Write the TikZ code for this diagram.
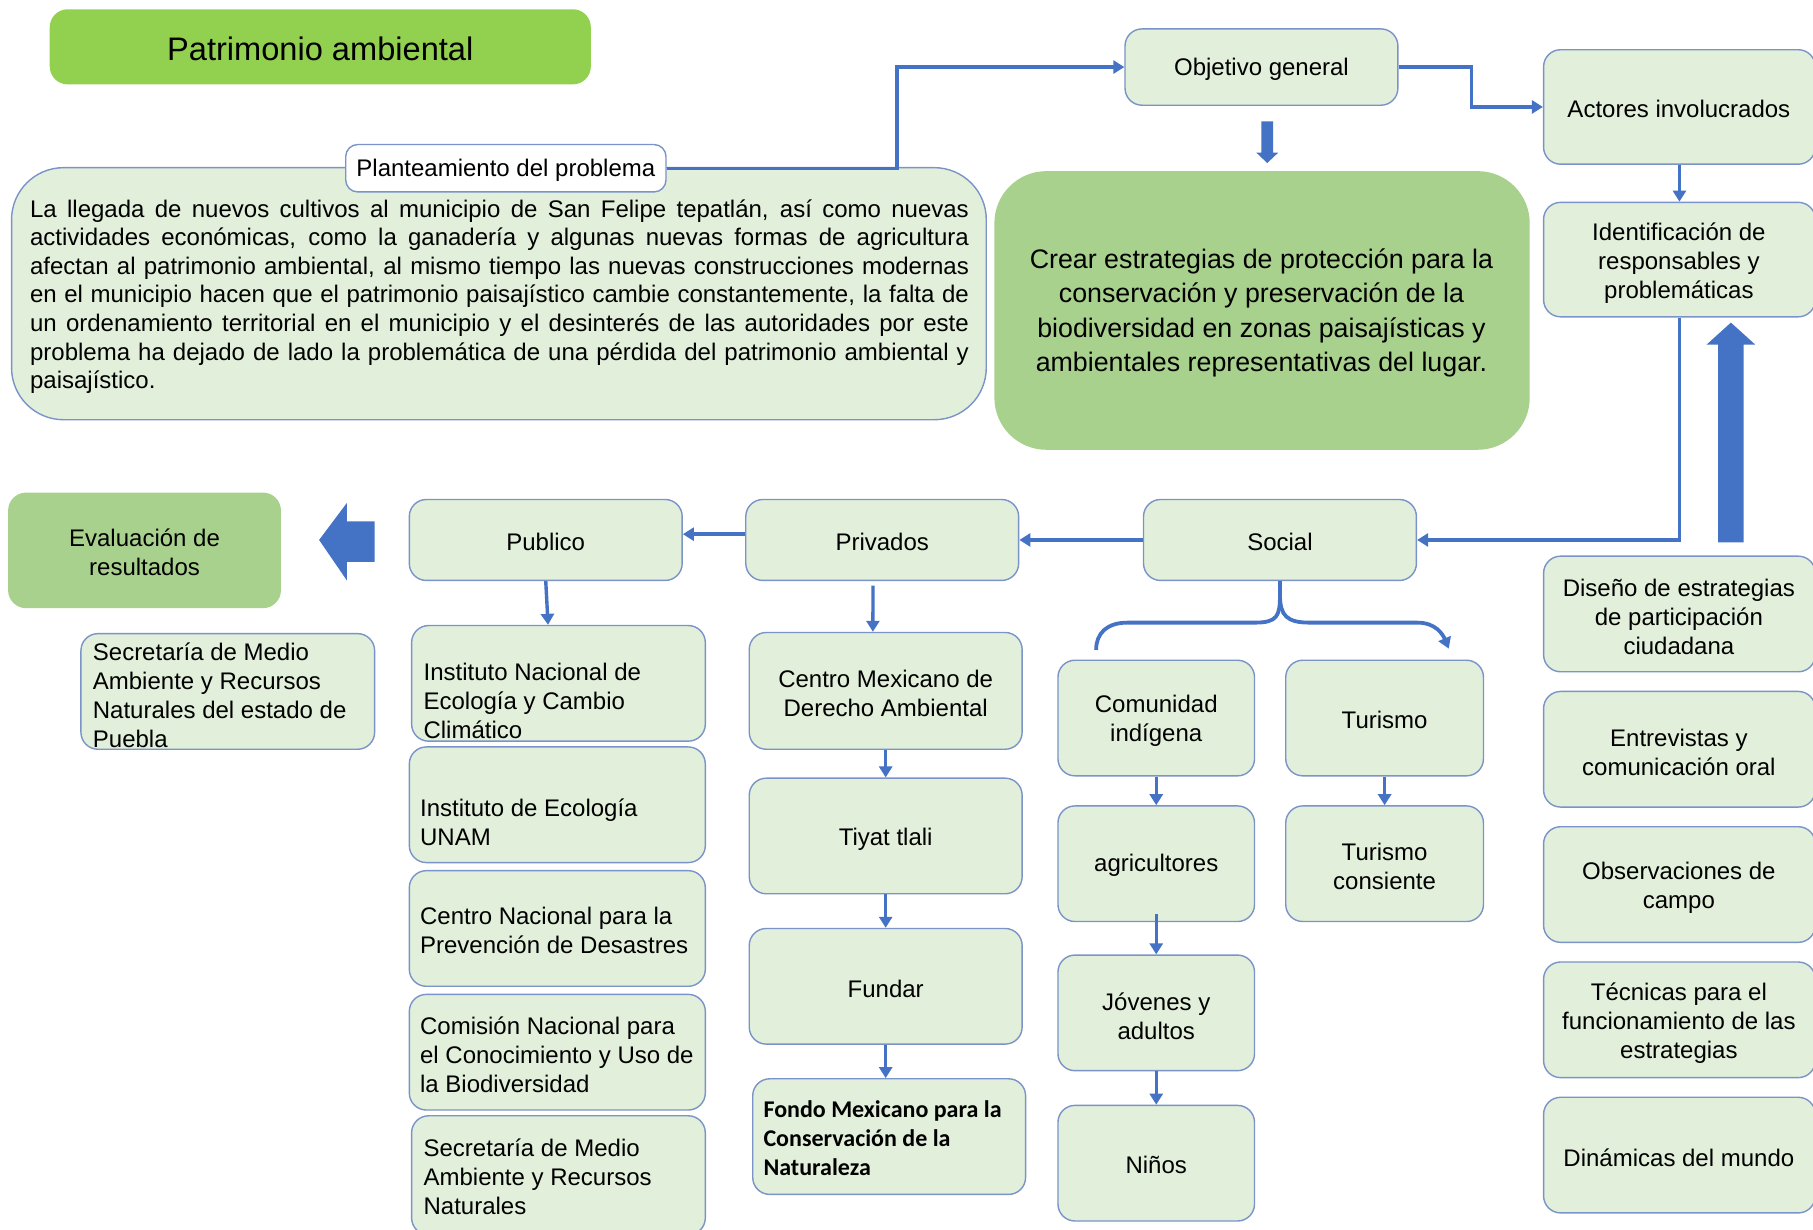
\documentclass[tikz,border=0pt]{standalone}
\usepackage{fontspec}
\setmainfont{Liberation Sans}
\newfontfamily\carlito{Carlito}
\usetikzlibrary{arrows.meta}
\definecolor{lgreen}{HTML}{E2EFDA}
\definecolor{mgreen}{HTML}{A9D18E}
\definecolor{tgreen}{HTML}{92D050}
\definecolor{bdr}{HTML}{7A93C8}
\definecolor{arr}{HTML}{4472C4}
\tikzset{
  box/.style={draw=bdr, line width=0.7pt, fill=lgreen, rounded corners=8.5pt},
  txt/.style={inner sep=0pt, yshift=-0.9pt, font=\fontsize{12}{14.45}\selectfont, align=center},
  ltxt/.style={inner sep=0pt, yshift=-0.9pt, font=\fontsize{12}{14.45}\selectfont, align=left, anchor=west},
  conn/.style={draw=arr, line width=1.7pt, -{Triangle[length=5.5pt,width=6.5pt]}},
  plain/.style={draw=arr, line width=1.9pt},
  blockarrow/.style={fill=arr, draw=none}
}
\newcommand\boxat[6]{%
  \pgfmathsetmacro\bw{(#4-#2)*0.5781}%
  \pgfmathsetmacro\bh{(#5-#3)*0.5781}%
  \node[#6, minimum width=\bw pt, minimum height=\bh pt, inner sep=0pt] (#1) at ({(#2+#4)/2},{(#3+#5)/2}) {};}
\newcommand\jline[1]{\makebox[469.4pt][s]{#1}}
\begin{document}
\begin{tikzpicture}[x=0.5781pt,y=-0.5781pt]
\useasboundingbox (0,0) rectangle (1568,1063);
\clip (0,0) rectangle (1568,1063);

% title
\boxat{title}{43}{8}{511}{73}{fill=tgreen, rounded corners=9pt}
\node[txt, font=\fontsize{16.3}{19}\selectfont] (title-t) at (277,41) {Patrimonio ambiental};

% problem
\boxat{prob}{10}{145}{853}{363}{box, rounded corners=26pt}
\boxat{plant}{299}{125}{576}{166}{box, fill=white, rounded corners=6pt}
\node[txt] (plant-t) at (437.5,146) {Planteamiento del problema};
\node[inner sep=0pt, yshift=-0.9pt, font=\fontsize{12}{14.26}\selectfont, align=left, text width=469.4pt] (prob-t) at (432,255)
{\spaceskip=0pt\xspaceskip=0pt
\jline{La llegada de nuevos cultivos al municipio de San Felipe tepatlán, así como nuevas}\\
\jline{actividades económicas, como la ganadería y algunas nuevas formas de agricultura}\\
\jline{afectan al patrimonio ambiental, al mismo tiempo las nuevas construcciones modernas}\\
\jline{en el municipio hacen que el patrimonio paisajístico cambie constantemente, la falta de}\\
\jline{un ordenamiento territorial en el municipio y el desinterés de las autoridades por este}\\
\jline{problema ha dejado de lado la problemática de una pérdida del patrimonio ambiental y}\\
paisajístico.};

% objective
\boxat{obj}{973}{25}{1209}{91}{box}
\node[txt] (obj-t) at (1091,58) {Objetivo general};
\boxat{crear}{860}{148}{1323}{389}{fill=mgreen, rounded corners=26pt}
\node[txt, font=\fontsize{13.4}{17.3}\selectfont] (crear-t) at (1091,269)
{Crear estrategias de protección para la\\conservación y preservación de la\\biodiversidad en zonas paisajísticas y\\ambientales representativas del lugar.};
\fill[blockarrow] (1091,105) -- (1101,105) -- (1101,132) -- (1105.5,132) -- (1096,141) -- (1086.5,132) -- (1091,132) -- cycle;

% actors
\boxat{act}{1335}{43}{1570}{142}{box}
\node[txt] (act-t) at (1452,93) {Actores involucrados};
\boxat{ident}{1335}{175}{1570}{274}{box}
\node[txt] (ident-t) at (1452,226) {Identificación de\\responsables y\\problemáticas};

% row
\boxat{social}{989}{432}{1225}{502}{box}
\node[txt] (social-t) at (1107,467) {Social};
\boxat{priv}{645}{432}{881}{502}{box}
\node[txt] (priv-t) at (763,467) {Privados};
\boxat{pub}{354}{432}{590}{502}{box}
\node[txt] (pub-t) at (472,467) {Publico};
\boxat{eval}{7}{426}{243}{526}{fill=mgreen, rounded corners=9pt}
\node[txt] (eval-t) at (125,476) {Evaluación de\\resultados};
\fill[blockarrow] (276,467) -- (300,435) -- (300,451) -- (324,451) -- (324,486) -- (300,486) -- (300,502) -- cycle;
\boxat{puebla}{70}{548}{324}{648}{box}
\node[ltxt] (puebla-t) at (80,599.5) {Secretaría de Medio\\Ambiente y Recursos\\Naturales del estado de\\Puebla};

% publico column
\boxat{inst1}{356}{541}{610}{641}{box}
\node[ltxt] (inst1-t) at (366,604.5) {Instituto Nacional de\\Ecología y Cambio\\Climático};
\boxat{inst2}{354}{646}{610}{746}{box}
\node[ltxt] (inst2-t) at (363,709.5) {Instituto de Ecología\\UNAM};
\boxat{inst3}{354}{753}{610}{853}{box}
\node[ltxt] (inst3-t) at (363,803.5) {Centro Nacional para la\\Prevención de Desastres};
\boxat{inst4}{354}{860}{610}{960}{box}
\node[ltxt] (inst4-t) at (363,911) {Comisión Nacional para\\el Conocimiento y Uso de\\la Biodiversidad};
\boxat{inst5}{356}{965}{610}{1068}{box}
\node[ltxt] (inst5-t) at (366,1016) {Secretaría de Medio\\Ambiente y Recursos\\Naturales};

% privados column
\boxat{cm1}{648}{547}{884}{648}{box}
\node[txt] (cm1-t) at (766,598.5) {Centro Mexicano de\\Derecho Ambiental};
\boxat{cm2}{648}{673}{884}{773}{box}
\node[txt] (cm2-t) at (766,724) {Tiyat tlali};
\boxat{cm3}{648}{803}{884}{903}{box}
\node[txt] (cm3-t) at (766,854) {Fundar};
\boxat{cm4}{651}{933}{887}{1033}{box}
\node[ltxt, font=\carlito\bfseries\fontsize{12}{14.45}\selectfont] (cm4-t) at (660,983) {Fondo Mexicano para la\\Conservación de la\\Naturaleza};

% social column
\boxat{s1}{915}{571}{1085}{671}{box}
\node[txt] (s1-t) at (1000,621.5) {Comunidad\\indígena};
\boxat{s2}{915}{697}{1085}{797}{box}
\node[txt] (s2-t) at (1000,747) {agricultores};
\boxat{s3}{915}{826}{1085}{926}{box}
\node[txt] (s3-t) at (1000,877) {Jóvenes y\\adultos};
\boxat{s4}{915}{956}{1085}{1056}{box}
\node[txt] (s4-t) at (1000,1006) {Niños};
\boxat{t1}{1112}{571}{1283}{671}{box}
\node[txt] (t1-t) at (1197.5,621) {Turismo};
\boxat{t2}{1112}{697}{1283}{797}{box}
\node[txt] (t2-t) at (1197.5,747.5) {Turismo\\consiente};

% right column
\boxat{r1}{1335}{481}{1570}{581}{box}
\node[txt] (r1-t) at (1452,532) {Diseño de estrategias\\de participación\\ciudadana};
\boxat{r2}{1335}{598}{1570}{698}{box}
\node[txt] (r2-t) at (1452,649) {Entrevistas y\\comunicación oral};
\boxat{r3}{1335}{715}{1570}{815}{box}
\node[txt] (r3-t) at (1452,766) {Observaciones de\\campo};
\boxat{r4}{1335}{832}{1570}{932}{box}
\node[txt] (r4-t) at (1452,883) {Técnicas para el\\funcionamiento de las\\estrategias};
\boxat{r5}{1335}{949}{1570}{1049}{box}
\node[txt] (r5-t) at (1452,1000) {Dinámicas del mundo};
\fill[blockarrow] (1486,469) -- (1486,298) -- (1476,298) -- (1497,279) -- (1518,298) -- (1508,298) -- (1508,469) -- cycle;

% connectors
\draw[conn] (plant.east) -- ++(199,0) |- (obj.west);
\draw[conn] (obj.east) -- ++(63,0) |- (act.west);
\draw[conn] (act.south) -- (ident.north);
\draw[conn] (ident.south) |- (social.east);
\draw[conn] (social.west) -- (priv.east);
\draw[conn] ([yshift=2.9pt]priv.west) -- ([yshift=2.9pt]pub.east);
\draw[conn] (pub.south) -- ([xshift=-5.2pt]inst1.north);
\draw[conn] ([xshift=-4.6pt,yshift=-2.3pt]priv.south) -- ([xshift=-6.4pt]cm1.north);
\draw[conn] (cm1.south) -- (cm2.north);
\draw[conn] (cm2.south) -- (cm3.north);
\draw[conn] (cm3.south) -- (cm3.south |- cm4.north);
\draw[conn] (s1.south) -- (s2.north);
\draw[conn] ([yshift=4pt]s2.south) -- (s3.north);
\draw[conn] (s3.south) -- (s4.north);
\draw[conn] (t1.south) -- (t2.north);

% brace from Social
\path (social.south) ++(0,12) coordinate (bstem);
\coordinate (bl) at (948,562);
\coordinate (br) at (1253,561);
\draw[plain] (social.south) -- (bstem) .. controls +(0,18) and +(20,0) .. (1085,538.5) -- (975,538.5) .. controls +(-18,0) and +(0,-14) .. (bl);
\draw[conn, line width=1.9pt] (bstem) .. controls +(0,18) and +(-20,0) .. (1133,538.5) -- (1226,538.5) .. controls +(16,0) and +(-5,-12) .. (br);
\end{tikzpicture}
\end{document}
